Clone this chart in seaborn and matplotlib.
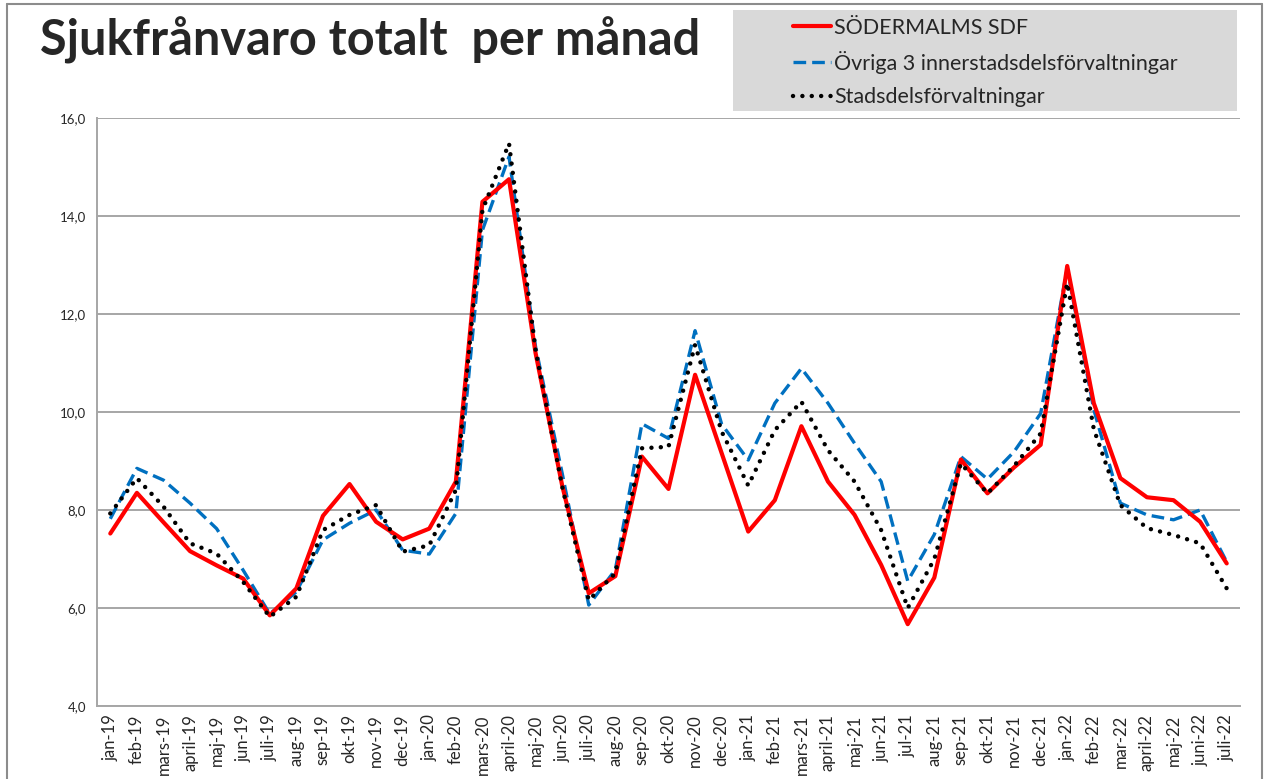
# Sjukfrånvaro totalt per månad - line chart recreation
import numpy as np
import pandas as pd
import seaborn as sns
import matplotlib.pyplot as plt
from matplotlib.lines import Line2D
from matplotlib.patches import Rectangle
from matplotlib.ticker import FixedLocator, FuncFormatter

# === Data ===
months = ["jan-19", "feb-19", "mars-19", "april-19", "maj-19", "jun-19", "juli-19",
          "aug-19", "sep-19", "okt-19", "nov-19", "dec-19", "jan-20", "feb-20",
          "mars-20", "april-20", "maj-20", "jun-20", "juli-20", "aug-20", "sep-20",
          "okt-20", "nov-20", "dec-20", "jan-21", "feb-21", "mars-21", "april-21",
          "maj-21", "jun-21", "jul-21", "aug-21", "sep-21", "okt-21", "nov-21",
          "dec-21", "jan-22", "feb-22", "mar-22", "april-22", "maj-22", "juni-22",
          "juli-22"]

sodermalm = [7.52, 8.35, 7.75, 7.16, 6.87, 6.60, 5.85, 6.40, 7.88, 8.53, 7.76, 7.40,
             7.62, 8.58, 14.29, 14.75, 11.20, 8.50, 6.30, 6.65, 9.09, 8.43, 10.76,
             9.16, 7.56, 8.20, 9.71, 8.58, 7.90, 6.88, 5.67, 6.62, 9.03, 8.34, 8.87,
             9.33, 12.98, 10.18, 8.65, 8.26, 8.20, 7.76, 6.91]

ovriga = [7.82, 8.85, 8.61, 8.14, 7.62, 6.77, 5.88, 6.33, 7.39, 7.73, 8.00, 7.18,
          7.10, 7.93, 13.71, 15.21, 11.33, 8.75, 6.06, 6.78, 9.76, 9.46, 11.66,
          9.75, 9.02, 10.18, 10.89, 10.18, 9.36, 8.58, 6.55, 7.50, 9.09, 8.63, 9.19,
          9.97, 12.93, 10.05, 8.14, 7.90, 7.80, 8.00, 6.94]

stadsdel = [7.93, 8.65, 8.07, 7.32, 7.11, 6.53, 5.82, 6.23, 7.59, 7.90, 8.10, 7.15,
            7.28, 8.41, 14.12, 15.48, 11.26, 8.48, 6.16, 6.71, 9.26, 9.29, 11.37,
            9.60, 8.50, 9.63, 10.21, 9.22, 8.58, 7.59, 6.00, 7.00, 8.95, 8.34, 8.90,
            9.56, 12.63, 9.65, 8.10, 7.63, 7.49, 7.32, 6.40]

series_names = ["SÖDERMALMS SDF", "Övriga 3 innerstadsdelsförvaltningar",
                "Stadsdelsförvaltningar"]

df = pd.DataFrame({"pos": np.arange(len(months)), "month": months,
                   series_names[0]: sodermalm, series_names[1]: ovriga,
                   series_names[2]: stadsdel})

# === Style ===
sns.set_style("white")
plt.rcParams['font.family'] = ['Lato', 'DejaVu Sans']
grid_grey = "#a6a6a6"

fig = plt.figure(figsize=(12.7, 7.79), dpi=100)
W, H = 1270, 779
ax = fig.add_axes([97 / W, 1 - 706 / H, (1240 - 97) / W, (706 - 118) / H])

# === Lines ===
sns.lineplot(data=df, x="pos", y=series_names[0], ax=ax, color="#ff0000",
             linewidth=3.0, label=series_names[0], zorder=3)
sns.lineplot(data=df, x="pos", y=series_names[1], ax=ax, color="#0070c0",
             linewidth=2.4, label=series_names[1], zorder=2)
sns.lineplot(data=df, x="pos", y=series_names[2], ax=ax, color="black",
             linewidth=3.2, label=series_names[2], zorder=4)
lines = ax.get_lines()
lines[1].set_dashes([3.8, 1.8])
lines[2].set_dashes([0.01, 2.1])
lines[2].set_dash_capstyle("round")
lines[2].set_solid_capstyle("round")

# === Axes ===
ax.set_xlim(-0.5, len(months) - 0.5)
ax.set_ylim(4, 16)
ax.set_xlabel("")
ax.set_ylabel("")
ax.set_yticks(np.arange(4, 16.1, 2))
ax.yaxis.set_major_formatter(FuncFormatter(lambda v, p: f"{v:.1f}".replace(".", ",")))
ax.set_xticks(np.arange(len(months)))
ax.set_xticklabels(months, rotation=90, fontsize=12, color="#262626")
ax.xaxis.set_minor_locator(FixedLocator(np.arange(-0.5, len(months), 1)))
ax.tick_params(axis="x", which="major", length=0, pad=6)
ax.tick_params(axis="x", which="minor", length=6, width=1.2, color=grid_grey,
               direction="out")
ax.tick_params(axis="y", length=5, width=1.2, color=grid_grey, direction="out",
               labelsize=9.5, labelcolor="#262626", pad=3)
ax.yaxis.grid(True, color=grid_grey, linewidth=1.4)
ax.set_axisbelow(True)
for s in ["top", "right"]:
    ax.spines[s].set_visible(False)
for s in ["left", "bottom"]:
    ax.spines[s].set_color(grid_grey)
    ax.spines[s].set_linewidth(1.4)
ax.legend_.remove()

# === Title ===
fig.text(40 / W, 1 - 40 / H, "Sjukfrånvaro totalt  per månad", fontsize=35,
         fontweight="bold", va="center", ha="left")

# === Legend box ===
fig.patches.append(Rectangle((733 / W, 1 - 111 / H), (1237 - 733) / W, (111 - 10) / H,
                             transform=fig.transFigure, facecolor="#d9d9d9",
                             edgecolor="none", zorder=0))
leg = fig.legend(handles=lines, labels=series_names, loc="upper left",
                 bbox_to_anchor=(784 / W, 1 - 9 / H), frameon=False, fontsize=15.5,
                 handlelength=1.8, handletextpad=0.12, labelspacing=0.62,
                 borderaxespad=0)

# === Outer frame ===
frame_kw = dict(color="#8c8c8c", linewidth=1.5, transform=fig.transFigure)
fig.add_artist(Line2D([7 / W, 1262 / W], [1 - 4 / H, 1 - 4 / H], **frame_kw))
fig.add_artist(Line2D([7 / W, 7 / W], [0, 1 - 4 / H], **frame_kw))
fig.add_artist(Line2D([1262 / W, 1262 / W], [0, 1 - 4 / H], **frame_kw))

fig.savefig("out.png", dpi=100)
